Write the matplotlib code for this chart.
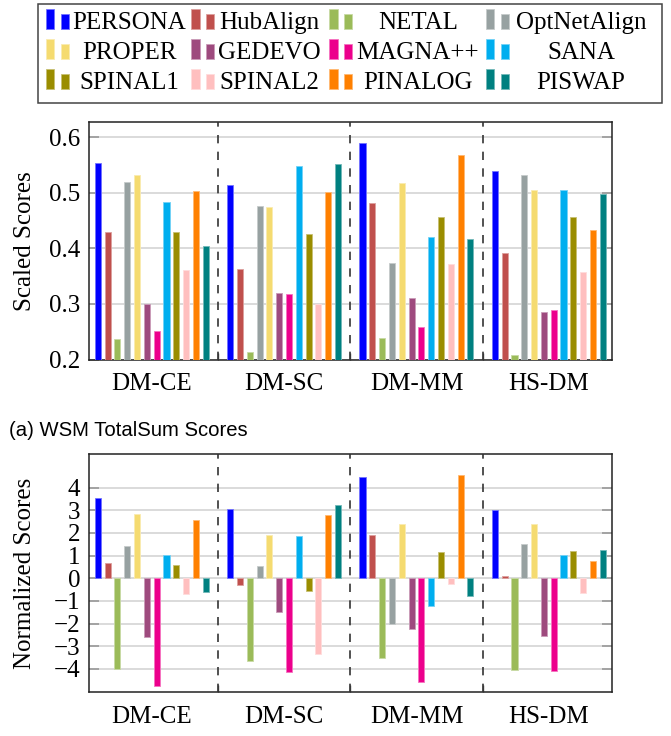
import matplotlib
matplotlib.use("Agg")
import matplotlib.pyplot as plt
import matplotlib.colors as mcolors
from matplotlib.patches import Rectangle
import numpy as np

# data
methods = ['PERSONA', 'HubAlign', 'NETAL', 'OptNetAlign', 'PROPER', 'GEDEVO',
           'MAGNA++', 'SANA', 'SPINAL1', 'SPINAL2', 'PINALOG', 'PISWAP']
datasets = ['DM-CE', 'DM-SC', 'DM-MM', 'HS-DM']
colors = ['#0000FF', '#C0504D', '#9BBB59', '#97A1A1', '#F5DB70', '#9E4A7E',
          '#EC008C', '#00AEEF', '#9A8D00', '#FFBFBF', '#FF8000', '#008080']

# scaled scores (WSM TotalSum), one list per dataset, order = methods
scaled_dm_ce = [0.554, 0.429, 0.237, 0.520, 0.532, 0.300, 0.252, 0.484, 0.430, 0.362, 0.503, 0.404]
scaled_dm_sc = [0.514, 0.363, 0.213, 0.477, 0.475, 0.320, 0.318, 0.548, 0.426, 0.300, 0.502, 0.552]
scaled_dm_mm = [0.589, 0.481, 0.238, 0.374, 0.518, 0.311, 0.259, 0.420, 0.457, 0.372, 0.568, 0.417]
scaled_hs_dm = [0.539, 0.392, 0.208, 0.532, 0.506, 0.286, 0.290, 0.505, 0.457, 0.357, 0.433, 0.498]

# normalized scores
norm_dm_ce = [3.54, 0.65, -4.01, 1.44, 2.84, -2.60, -4.74, 1.01, 0.59, -0.71, 2.57, -0.62]
norm_dm_sc = [3.06, -0.31, -3.66, 0.56, 1.91, -1.51, -4.12, 1.85, -0.56, -3.32, 2.79, 3.24]
norm_dm_mm = [4.47, 1.90, -3.51, -2.00, 2.40, -2.26, -4.59, -1.21, 1.16, -0.24, 4.54, -0.79]
norm_hs_dm = [3.01, 0.10, -4.06, 1.49, 2.38, -2.53, -4.07, 1.03, 1.21, -0.65, 0.78, 1.26]

scaled = np.array([scaled_dm_ce, scaled_dm_sc, scaled_dm_mm, scaled_hs_dm])
normalized = np.array([norm_dm_ce, norm_dm_sc, norm_dm_mm, norm_hs_dm])

plt.rcParams['font.family'] = ['Liberation Serif', 'DejaVu Serif']
FS = 18


def lighten(c, amount=0.45):
    r, g, b = mcolors.to_rgb(c)
    return (r + (1 - r) * amount, g + (1 - g) * amount, b + (1 - b) * amount)


def draw_panel(ax, values, ylim, yticks, ylabel, yfmt):
    x = np.arange(len(datasets))
    step = 0.0741
    width = 0.046
    for i, m in enumerate(methods):
        offs = (i - (len(methods) - 1) / 2) * step
        ax.bar(x + offs, values[:, i], width=width, color=colors[i],
               edgecolor=lighten(colors[i]), linewidth=0.6, zorder=3)
    ax.set_xlim(-0.478, 3.478)
    ax.set_ylim(*ylim)
    # separators between datasets
    for s in [0.5, 1.5, 2.5]:
        ax.axvline(s, color='#333333', linestyle=(0, (5, 5)), linewidth=1.2, zorder=4)
    ax.set_xticks(x)
    ax.set_xticklabels(datasets, fontsize=FS)
    ax.tick_params(axis='x', which='major', length=0, pad=10)
    ax.set_xticks([0.5, 1.5, 2.5], minor=True)
    ax.tick_params(axis='x', which='minor', direction='in', length=5,
                   color='#555555', width=1)
    ax.set_yticks(yticks)
    ax.set_yticklabels([yfmt(v) for v in yticks], fontsize=FS)
    ax.tick_params(axis='y', direction='in', length=7, width=1.2, color='#999999',
                   left=True, right=True, pad=6)
    ax.grid(axis='y', color='#d4d4d4', linewidth=1.2, zorder=0)
    ax.set_axisbelow(True)
    for sp in ax.spines.values():
        sp.set_color('#222222')
        sp.set_linewidth(1.1)
    ax.set_ylabel(ylabel, fontsize=FS)
    ax.yaxis.set_label_coords(-0.1, 0.5)


fig = plt.figure(figsize=(6.71, 7.36), dpi=100)

ax1 = fig.add_axes([0.1319, 0.5115, 0.7803, 0.3223])
draw_panel(ax1, scaled, (0.2, 0.627), [0.2, 0.3, 0.4, 0.5, 0.6], 'Scaled Scores',
           lambda v: f'{v:.1f}')

ax2 = fig.add_axes([0.1319, 0.0594, 0.7803, 0.3238])
draw_panel(ax2, normalized, (-5.03, 5.48), [-4, -3, -2, -1, 0, 1, 2, 3, 4],
           'Normalized Scores', lambda v: f'\u2212{abs(v)}' if v < 0 else f'{v}')

# caption
fig.text(9 / 671, 1 - 436.5 / 736, '(a) WSM TotalSum Scores', fontsize=14.6,
         family=['Liberation Sans', 'DejaVu Sans'], va='baseline', ha='left')

# legend box, laid out in figure pixels
lax = fig.add_axes([0, 0, 1, 1], zorder=10)
lax.set_xlim(0, 671)
lax.set_ylim(736, 0)
lax.axis('off')
lax.add_patch(Rectangle((38.3, 4), 624, 99, fill=False, edgecolor='#444444', linewidth=1.1))
col_start = [45.7, 191, 329, 485.7]
col_text = [129.3, 269.7, 418, 581]
row_mid = [21.7, 51.7, 81.7]
for i, m in enumerate(methods):
    r, c = divmod(i, 4)
    x0 = col_start[c]
    yb = row_mid[r] + 7.6
    lax.add_patch(Rectangle((x0, yb - 20), 8.5, 20, facecolor=colors[i],
                            edgecolor=lighten(colors[i]), linewidth=0.6))
    lax.add_patch(Rectangle((x0 + 15.3, yb - 15.3), 8, 15.3, facecolor=colors[i],
                            edgecolor=lighten(colors[i]), linewidth=0.6))
    lax.text(col_text[c], row_mid[r] + 1, m, fontsize=FS, ha='center', va='center')

fig.savefig('out.png', dpi=100)
plt.close(fig)
